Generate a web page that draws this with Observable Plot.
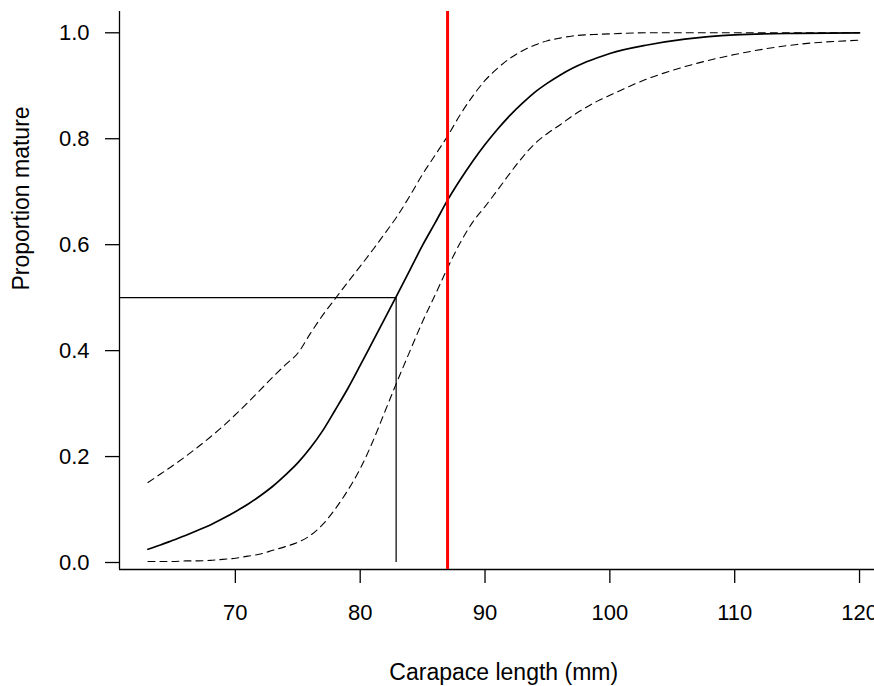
<!DOCTYPE html>
<html>
<head>
<meta charset="utf-8">
<script src="https://cdn.jsdelivr.net/npm/d3@7"></script>
<script src="https://cdn.jsdelivr.net/npm/@observablehq/plot@0.6"></script>
<style>
  html, body { margin: 0; padding: 0; background: white; overflow: hidden; }
  #chart svg { display: block; }
</style>
</head>
<body>
<div id="chart"></div>
<script>
// Carapace length (mm) grid
const lengths = [63,64,65,66,67,68,69,70,71,72,73,74,75,76,77,78,79,80,81,82,83,84,85,86,87,88,89,90,91,92,93,94,95,96,97,98,99,100,103,106,110,115,120];
// fitted proportion mature
const fitted  = [0.025,0.033,0.042,0.051,0.061,0.071,0.083,0.096,0.110,0.126,0.144,0.165,0.188,0.216,0.249,0.288,0.328,0.372,0.417,0.462,0.507,0.553,0.599,0.641,0.684,0.722,0.757,0.789,0.818,0.844,0.867,0.888,0.905,0.920,0.933,0.944,0.953,0.961,0.977,0.988,0.996,0.999,1.000];
// upper confidence bound
const upper   = [0.151,0.167,0.183,0.200,0.218,0.237,0.257,0.279,0.302,0.326,0.350,0.373,0.395,0.432,0.467,0.498,0.529,0.559,0.590,0.622,0.655,0.693,0.733,0.769,0.805,0.845,0.880,0.910,0.933,0.952,0.966,0.977,0.985,0.990,0.994,0.996,0.997,0.998,1.000,1.000,1.000,1.000,1.000];
// lower confidence bound
const lower   = [0.002,0.002,0.002,0.003,0.003,0.004,0.006,0.008,0.012,0.016,0.023,0.030,0.038,0.051,0.072,0.101,0.136,0.177,0.228,0.286,0.344,0.400,0.455,0.505,0.556,0.603,0.642,0.672,0.703,0.735,0.765,0.791,0.810,0.826,0.843,0.858,0.871,0.882,0.913,0.936,0.959,0.978,0.986];

const l50 = 82.88;        // length at 50% maturity
const refLength = 87;     // red reference line
const xTicks = [70, 80, 90, 100, 110, 120];
const yTicks = [0, 0.2, 0.4, 0.6, 0.8, 1.0];
const xDomain = [60.72, 122.28];
const yDomain = [-0.0132, 1.0402];
const xLabel = "Carapace length (mm)";
const yLabel = "Proportion mature";

const rows = lengths.map((x, i) => ({x, fit: fitted[i], up: upper[i], lo: lower[i]}));

const font = "'Liberation Sans', Arial, Helvetica, sans-serif";

const chart = Plot.plot({
  width: 874,
  height: 686,
  marginLeft: 119,
  marginRight: -13.5,
  marginTop: 11,
  marginBottom: 117,
  style: {fontFamily: font, fontSize: "22px", background: "white", color: "#000"},
  x: {domain: xDomain},
  y: {domain: yDomain},
  marks: [
    // L-shaped box
    Plot.ruleX([xDomain[0]], {stroke: "#000", strokeWidth: 1.3}),
    Plot.ruleY([yDomain[0]], {stroke: "#000", strokeWidth: 1.3}),
    Plot.axisX({ticks: xTicks, tickSize: 14, tickPadding: 21, label: null, fontSize: 22, strokeWidth: 1.3}),
    Plot.axisY({ticks: yTicks, tickFormat: d3.format(".1f"), tickSize: 14, tickPadding: 16, label: null, fontSize: 22, strokeWidth: 1.3}),
    // 50% maturity guide lines
    Plot.ruleY([0.5], {x1: xDomain[0], x2: l50, stroke: "#000", strokeWidth: 1.2}),
    Plot.ruleX([l50], {y1: 0, y2: 0.5, stroke: "#000", strokeWidth: 1.2}),
    // confidence bounds
    Plot.line(rows, {x: "x", y: "up", stroke: "#000", strokeWidth: 1.1, strokeDasharray: "7,5", curve: "monotone-x"}),
    Plot.line(rows, {x: "x", y: "lo", stroke: "#000", strokeWidth: 1.1, strokeDasharray: "7,5", curve: "monotone-x"}),
    // fitted curve
    Plot.line(rows, {x: "x", y: "fit", stroke: "#000", strokeWidth: 1.7, curve: "monotone-x"}),
    // reference length
    Plot.ruleX([refLength], {stroke: "#ff0000", strokeWidth: 3}),
    // axis titles
    Plot.text([xLabel], {text: d => d, frameAnchor: "bottom", lineAnchor: "bottom", dy: 110, fontSize: 23, fill: "#000"}),
    Plot.text([yLabel], {text: d => d, frameAnchor: "left", lineAnchor: "bottom", rotate: -90, dx: -90.5, fontSize: 23, fill: "#000"})
  ]
});

document.getElementById("chart").appendChild(chart);
</script>
</body>
</html>
